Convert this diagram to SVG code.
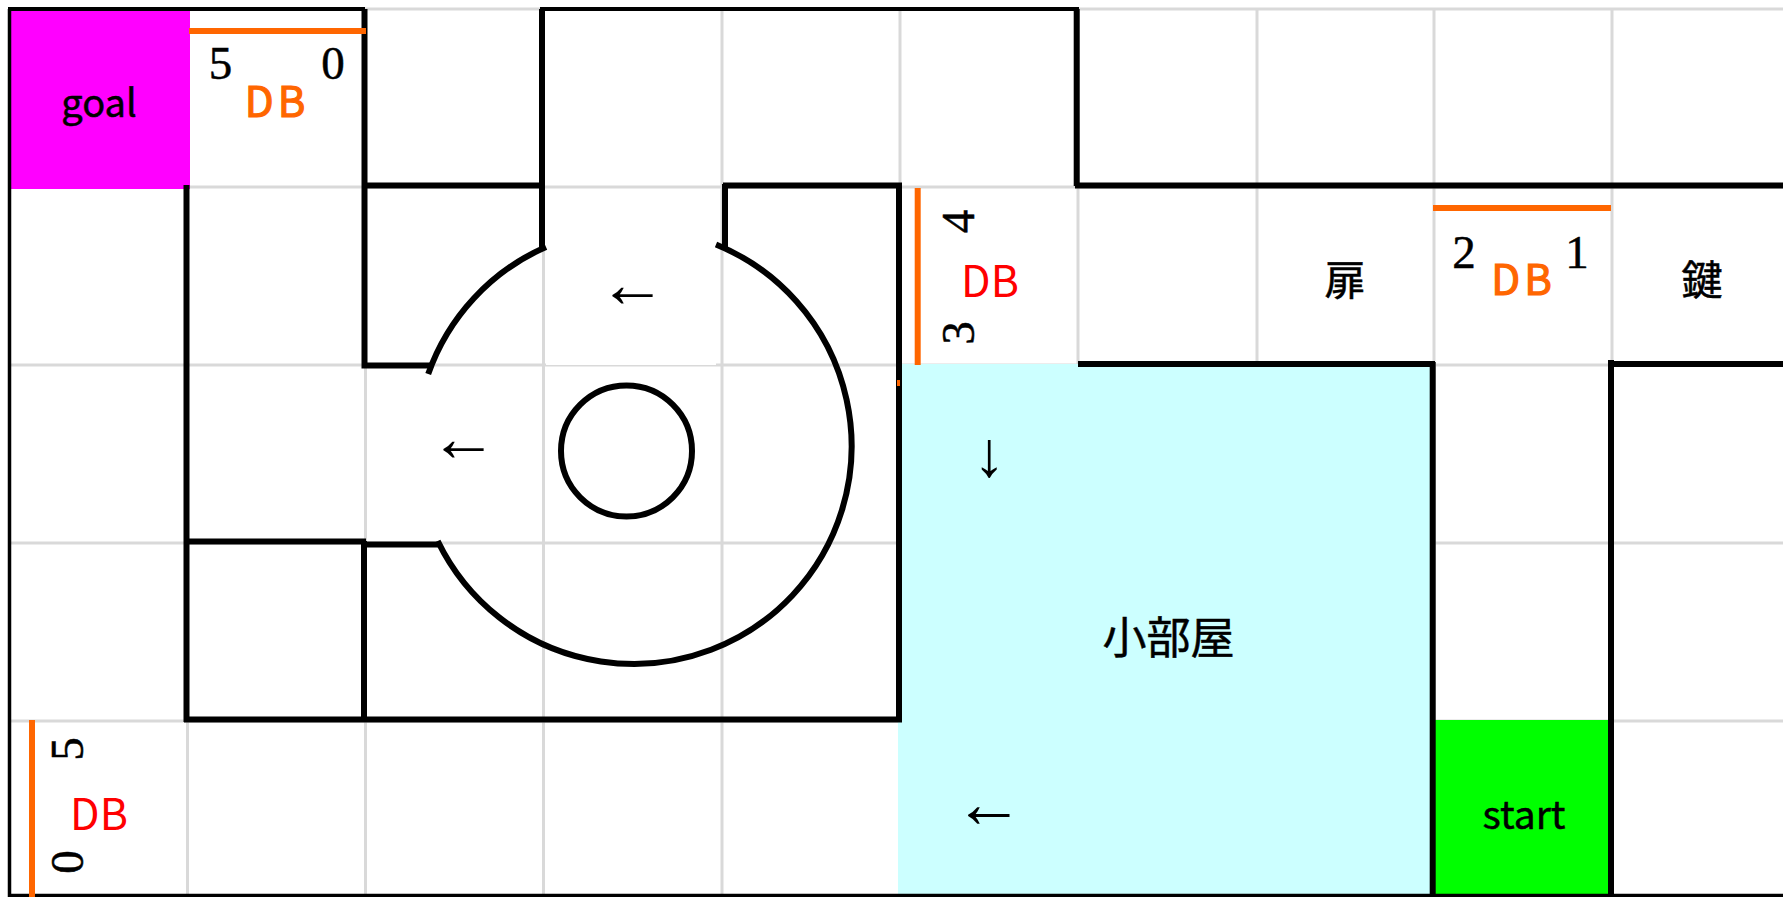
<svg xmlns="http://www.w3.org/2000/svg" width="1783" height="897" viewBox="0 0 1783 897">
<style>
.g{stroke:#d9d9d9;stroke-width:3;fill:none}
.w{stroke:#000;stroke-width:6;fill:none;stroke-linecap:butt}
.o{stroke:#ff6600;stroke-width:6;fill:none}
.t{font-family:"Noto Sans CJK JP","Noto Sans",sans-serif;fill:#000;stroke:#000;stroke-width:.5;text-anchor:middle}
.n{font-family:"Liberation Serif",serif;font-size:47px;fill:#000;stroke:#000;stroke-width:.5;text-anchor:middle}
.a{font-family:"Liberation Serif",serif;fill:#000;text-anchor:middle}
.db{font-family:"Noto Sans CJK JP","Noto Sans",sans-serif;font-size:42px;text-anchor:middle}
.do{fill:#ff6600;stroke:#ff6600;stroke-width:1.2;letter-spacing:4px}
.dr{fill:#ff0000;font-size:43px}
</style>
<rect width="1783" height="897" fill="#fff"/>
<g id="grid">
<path class="g" d="M187.5 9V897M365.5 9V897M543.5 9V897M722 9V897M900 9V897M1078 9V897M1257 9V897M1434 9V897M1612 9V897M9 9H1783M9 187H1783M9 365H1783M9 543H1783M9 721H1783"/>
</g>
<g id="areas">
<rect id="corridor" x="546" y="189" width="170" height="176" fill="#fff"/>
<path id="room-fill" fill="#ccffff" d="M902 364H1431V895H898V722H902Z"/>
<rect id="goal-fill" x="11" y="11" width="179" height="178" fill="#ff00ff"/>
<rect id="start-fill" x="1435" y="720" width="175" height="175" fill="#00ff00"/>
</g>
<g id="walls">
<path class="w" style="stroke-width:3.5" d="M9.5 9V897M8 895.5H1783"/>
<path class="w" style="stroke-width:4" d="M8 9H365"/>
<path class="w" style="stroke-width:4" d="M540 9H1079"/>
<path class="w" d="M364.5 9V365.5H432M364 185.5H544.5M542 9V247M725 184V248M723 185.5H902M899 183V722M186.5 185V722M184 719.5H902M186 541.5H366M364 719V541M364 544.5H441M1076.7 9V186M1075 185.5H1783M1078 364H1435M1432.7 362V897M1611 360V897M1609 364H1783"/>
<path class="w" d="M546 246.9A217.8 217.8 0 0 0 428.2 374M437.7 541A217.8 217.8 0 1 0 716 244.5"/>
<circle class="w" cx="626.5" cy="451" r="65.5"/>
</g>
<g id="markers">
<path class="o" d="M189 31H366M917.7 188V365M1433 208H1611M32 720V897"/>
<rect x="897" y="380" width="3" height="6" fill="#ff6600"/>
</g>
<g id="goal"><text class="t" x="99" y="116.5" font-size="38">goal</text></g>
<g id="start"><text class="t" x="1524" y="829" font-size="39">start</text></g>
<g id="db-top"><text class="db do" x="277" y="116.7">DB</text><text class="n" x="220.5" y="79">5</text><text class="n" x="333" y="79">0</text></g>
<g id="db-right"><text class="db do" x="1523.5" y="295">DB</text><text class="n" x="1464" y="268">2</text><text class="n" x="1577" y="268">1</text></g>
<g id="db-mid"><text class="db dr" x="990" y="297">DB</text><text class="n" transform="translate(974 221.5) rotate(-90)">4</text><text class="n" transform="translate(974 333) rotate(-90)">3</text></g>
<g id="db-low"><text class="db dr" x="99" y="830">DB</text><text class="n" transform="translate(83 749) rotate(-90)">5</text><text class="n" transform="translate(83 862) rotate(-90)">0</text></g>
<g id="door"><text class="t" x="1345" y="295" font-size="41">扉</text></g>
<g id="key"><text class="t" x="1702" y="295" font-size="41">鍵</text></g>
<g id="room"><text class="t" x="1168.5" y="654" font-size="44">小部屋</text></g>
<g id="arrows">
<text class="a" x="632.5" y="306.5" font-size="68">←</text>
<text class="a" x="463.5" y="460.5" font-size="68">←</text>
<text class="a" x="989" y="476" font-size="64">↓</text>
<text class="a" x="989" y="827" font-size="70">←</text>
</g>
</svg>
